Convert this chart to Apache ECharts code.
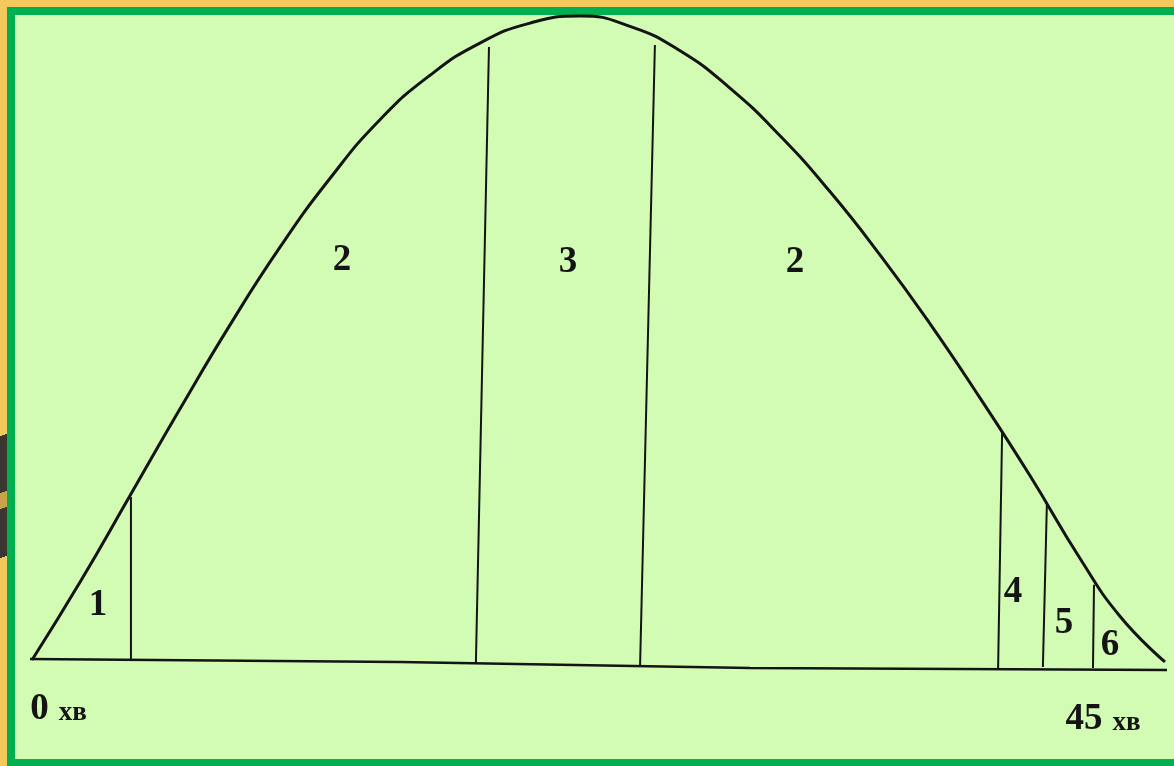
<!DOCTYPE html>
<html lang="uk">
<head>
    <meta charset="utf-8">
    <title>Крива працездатності</title>
    <script src="https://cdn.jsdelivr.net/npm/echarts@6/dist/echarts.min.js"></script>
    <style>
        html, body { margin: 0; padding: 0; }
        body { width: 1174px; height: 766px; background: #f2c95c; position: relative; overflow: hidden; }
        #stripe {
            position: absolute; left: 0; top: 420px; width: 7px; height: 160px;
            background: linear-gradient(160deg, transparent 10%, #3b3631 10%, #3b3631 45%, #c9a24a 45%, #c9a24a 55%, #3b3631 55%, #3b3631 85%, transparent 85%);
        }
        #panel {
            position: absolute; left: 7px; top: 7px; width: 1180px; height: 759px;
            box-sizing: border-box; background: #d2fbb3;
            border-top: 8px solid #00b050; border-left: 8px solid #00b050; border-bottom: 7px solid #00b050;
        }
        #main { position: absolute; left: 0; top: 0; width: 1174px; height: 766px; }
    </style>
</head>
<body>
    <div id="stripe"></div>
    <div id="panel"></div>
    <div id="main"></div>

    <script type="text/javascript">
    // крива: хвилини (0..45) і умовний рівень працездатності
    var curveX = [0, 1.91, 3.89, 5.88, 7.86, 9.85, 11.84, 13.82, 15.81, 17.79, 19.78, 21.77,
                  23.75, 25.74, 27.72, 29.71, 31.70, 33.68, 35.67, 37.65, 39.64, 41.62, 43.21, 45];
    var curveY = [0, 12.1, 25.5, 39.0, 52.0, 64.1, 74.8, 83.9, 90.8, 95.8, 98.9, 100,
                  98.4, 94.6, 88.8, 81.4, 72.7, 62.9, 52.2, 40.7, 28.6, 15.8, 6.8, -0.3];

    // вісь часу (трохи похила, як на малюнку)
    var baseX = [-0.68, 14.62, 28.52, 45.36];
    var baseY = [0.16, -0.31, -1.24, -1.55];

    // межі фаз: низ і верх кожної вертикалі
    var divBottomX = [3.93, 17.63, 24.15, 38.37, 40.15, 42.14];
    var divBottomY = [0.16, -0.47, -1.09, -1.55, -1.09, -1.24];
    var divTopX = [3.93, 18.15, 24.74, 38.53, 40.31, 42.18];
    var divTopY = [25.3, 95.2, 95.5, 35.3, 24.5, 11.7];

    // номери фаз
    var phaseNames = ['1', '2', '3', '2', '4', '5', '6'];
    var phaseX = [2.62, 12.31, 21.29, 30.30, 38.96, 40.99, 42.82];
    var phaseY = [8.4, 62.1, 61.8, 61.8, 10.5, 5.6, 2.2];

    // підписи часу
    var timeNum = ['0', '45'];
    var timeUnit = 'хв';
    var timeX = [1.05, 42.54];
    var timeY = [-7.6, -9.2];

    var myChart = echarts.init(document.getElementById('main'));

    function zip(xs, ys) {
        return xs.map(function (x, i) { return [x, ys[i]]; });
    }

    var ink = '#141414';
    var series = [];

    series.push({
        name: 'base', type: 'line', data: zip(baseX, baseY), symbol: 'none', clip: false,
        lineStyle: { color: ink, width: 2.5 }, silent: true
    });

    for (var i = 0; i < divTopX.length; i++) {
        series.push({
            name: 'div' + i, type: 'line', symbol: 'none', clip: false, silent: true,
            data: [[divBottomX[i], divBottomY[i]], [divTopX[i], divTopY[i]]],
            lineStyle: { color: ink, width: 2 }
        });
    }

    series.push({
        name: 'curve', type: 'line', data: zip(curveX, curveY), symbol: 'none',
        smooth: 0.5, clip: false,
        lineStyle: { color: ink, width: 3 }, silent: true
    });

    series.push({
        name: 'phases', type: 'scatter', symbolSize: 0, silent: true,
        itemStyle: { color: ink, opacity: 1 },
        data: phaseNames.map(function (n, i) { return { name: n, value: [phaseX[i], phaseY[i]] }; }),
        label: {
            show: true, position: 'inside', formatter: '{b}',
            fontFamily: 'Liberation Serif', fontWeight: 'bold', fontSize: 37,
            color: ink, textBorderWidth: 0
        }
    });

    series.push({
        name: 'time', type: 'scatter', symbolSize: 0, silent: true,
        itemStyle: { color: ink, opacity: 1 },
        data: timeNum.map(function (n, i) { return { name: n, value: [timeX[i], timeY[i]] }; }),
        label: {
            show: true, position: 'inside', color: ink, textBorderWidth: 0,
            formatter: function (p) { return '{n|' + p.name + '}{u|' + timeUnit + '}'; },
            rich: {
                n: { fontFamily: 'Liberation Serif', fontWeight: 'bold', fontSize: 37, color: ink,
                     verticalAlign: 'bottom', textBorderWidth: 0 },
                u: { fontFamily: 'Liberation Serif', fontWeight: 'bold', fontSize: 27, color: ink,
                     verticalAlign: 'bottom', padding: [0, 0, 1, 10], textBorderWidth: 0 }
            }
        }
    });

    myChart.setOption({
        animation: false,
        backgroundColor: 'transparent',
        grid: { left: 32, right: 9, top: 16, bottom: 41.6 },
        xAxis: { type: 'value', min: 0, max: 45, show: false },
        yAxis: { type: 'value', min: -10, max: 100, show: false },
        series: series
    });
    </script>
</body>
</html>
